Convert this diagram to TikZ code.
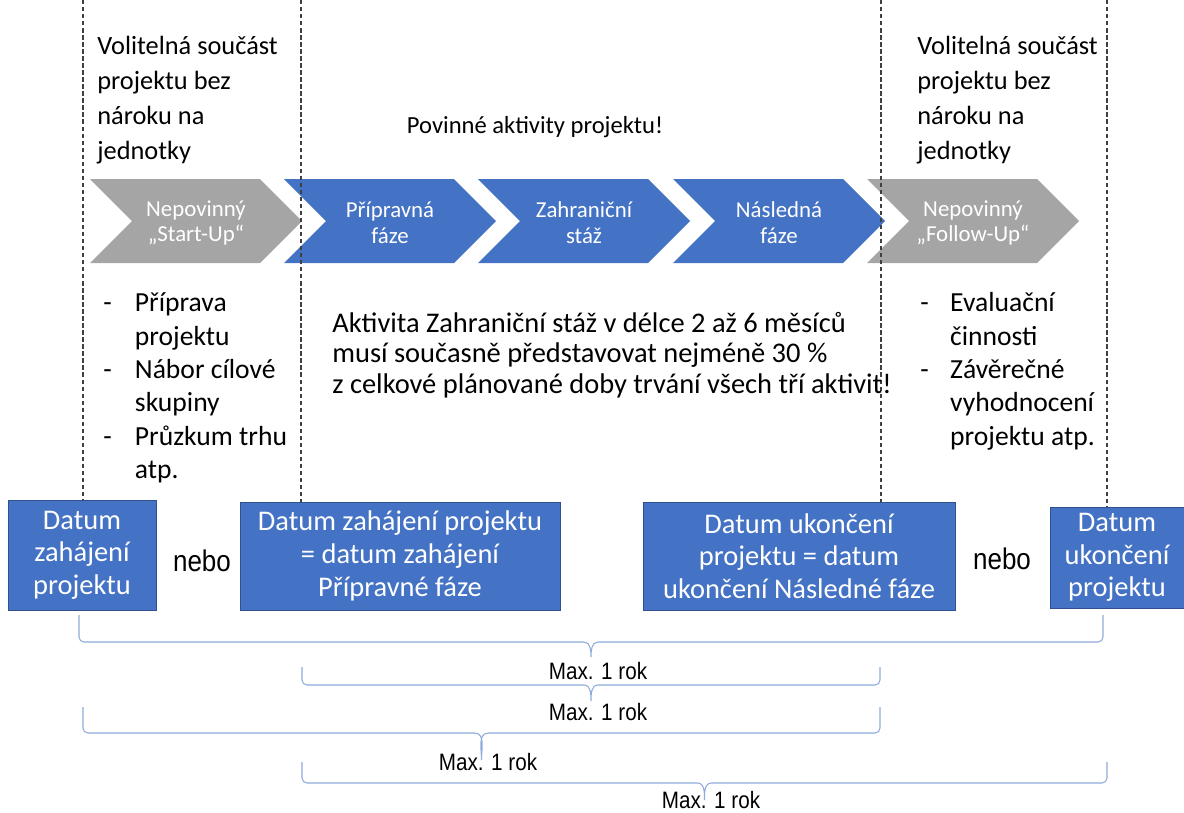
\documentclass[tikz,border=0pt]{standalone}
\usepackage{fontspec}
\setmainfont{Carlito}
\newfontfamily\arialn[FakeStretch=0.87]{Liberation Sans}

\definecolor{boxblue}{HTML}{4472C4}
\definecolor{boxedge}{HTML}{2F528F}
\definecolor{chevgray}{HTML}{A5A5A5}
\definecolor{braceblue}{HTML}{8FAADC}
\definecolor{guide}{HTML}{404040}

\tikzset{
  phase/.style={text=white, align=center, inner sep=0pt, font=\fontsize{13}{14.7}\selectfont},
  datebox/.style={fill=boxblue, draw=boxedge, line width=0.5pt, text=white, align=center,
    inner sep=0pt, font=\fontsize{16.2}{18.6}\selectfont},
  guideline/.style={guide, line width=0.6pt, dash pattern=on 2.5pt off 1.5pt},
  bracepath/.style={braceblue, line width=0.6pt},
  maxlabel/.style={inner sep=0pt, font=\arialn\fontsize{13.5}{15}\selectfont},
  ornode/.style={inner sep=0pt, font=\arialn\fontsize{17}{20}\selectfont},
  note/.style={align=left, anchor=north west, inner sep=0pt},
}

% chevron: left x, colour
\newcommand{\phasearrow}[2]{%
  \fill[#2] (#1,179) -- ++(170,0) -- ++(42,42) -- ++(-42,42) -- ++(-170,0) -- ++(42,-42) -- cycle;}
% brace under a span: x1, x2, top of ends, line, tip
\newcommand{\spanbrace}[5]{%
  \pgfmathsetmacro\bmid{(#1+#2)/2}%
  \draw[bracepath] (#1,#3) -- (#1,#4-5) to[out=-90,in=180] (#1+5,#4)
    -- (\bmid-7,#4) to[out=0,in=90] (\bmid,#5)
    to[out=90,in=180] (\bmid+7,#4) -- (#2-5,#4) to[out=0,in=-90] (#2,#4-5) -- (#2,#3);}

\begin{document}
\begin{tikzpicture}[x=0.02cm, y=-0.02cm]
  \useasboundingbox (0,0) rectangle (1184,812);

  % phases
  \phasearrow{90}{chevgray}
  \phasearrow{284}{boxblue}
  \phasearrow{478}{boxblue}
  \phasearrow{673}{boxblue}
  \phasearrow{867}{chevgray}
  \node[phase] (startup) at (196,223) {Nepovinný\\„Start-Up“};
  \node[phase] (prep) at (390,223) {Přípravná\\fáze};
  \node[phase] (stay) at (584,223) {Zahraniční\\stáž};
  \node[phase] (after) at (779,223) {Následná\\fáze};
  \node[phase] (followup) at (973,223) {Nepovinný\\„Follow-Up“};

  \draw[guideline] (83,0) -- (83,500);
  \draw[guideline] (301,0) -- (301,502);
  \draw[guideline] (881,0) -- (881,502);
  \draw[guideline] (1107,0) -- (1107,507);

  % texts
  \node[note, font=\fontsize{15}{19.8}\selectfont] (optleft) at (97,30)
    {\strut Volitelná součást\\projektu bez\\nároku na\\jednotky};
  \node[note, font=\fontsize{15}{19.8}\selectfont] (optright) at (917,30)
    {\strut Volitelná součást\\projektu bez\\nároku na\\jednotky};
  \node[font=\fontsize{14}{16}\selectfont, inner sep=0pt] (must) at (535,127) {Povinné aktivity projektu!};
  \node[note, font=\fontsize{15.7}{19}\selectfont] (startlist) at (103,288)
    {\strut\makebox[18pt][l]{-}Příprava\\\hspace*{18pt}projektu\\\makebox[18pt][l]{-}Nábor cílové\\
     \hspace*{18pt}skupiny\\\makebox[18pt][l]{-}Průzkum trhu\\\hspace*{18pt}atp.};
  \node[note, font=\fontsize{16.2}{17.6}\selectfont] (rule) at (332,310)
    {\strut Aktivita Zahraniční stáž v délce 2 až 6 měsíců\\musí současně představovat nejméně 30 \%\\
     z celkové plánované doby trvání všech tří aktivit!};
  \node[note, font=\fontsize{15.7}{19}\selectfont] (endlist) at (920,288)
    {\strut\makebox[17pt][l]{-}Evaluační\\\hspace*{17pt}činnosti\\\makebox[17pt][l]{-}Závěrečné\\
     \hspace*{17pt}vyhodnocení\\\hspace*{17pt}projektu atp.};

  % dates
  \node[datebox, minimum width=2.96cm, minimum height=2.2cm] (startdate) at (82,555)
    {Datum\\zahájení\\projektu};
  \node[ornode] (orleft) at (202,561) {nebo};
  \node[datebox, minimum width=6.4cm, minimum height=2.16cm] (prepstart) at (400,556)
    {Datum zahájení projektu\\= datum zahájení\\Přípravné fáze};
  \node[datebox, minimum width=6.24cm, minimum height=2.16cm] (afterend) at (799,556)
    {Datum ukončení\\projektu = datum\\ukončení Následné fáze};
  \node[ornode] (orright) at (1002,559) {nebo};
  \node[datebox, minimum width=2.68cm, minimum height=2.02cm] (enddate) at (1117,557.5)
    {Datum\\ukončení\\projektu};

  % spans
  \spanbrace{79}{1103}{615}{642}{657}
  \spanbrace{302}{880}{667}{685}{701}
  \spanbrace{83}{880}{707}{733}{760}
  \spanbrace{302}{1107}{762}{783}{800}
  \node[maxlabel] (spanA) at (598,671) {Max. 1 rok};
  \node[maxlabel] (spanB) at (598,712) {Max. 1 rok};
  \node[maxlabel] (spanC) at (488,762) {Max. 1 rok};
  \node[maxlabel] (spanD) at (711,800) {Max. 1 rok};
\end{tikzpicture}
\end{document}
